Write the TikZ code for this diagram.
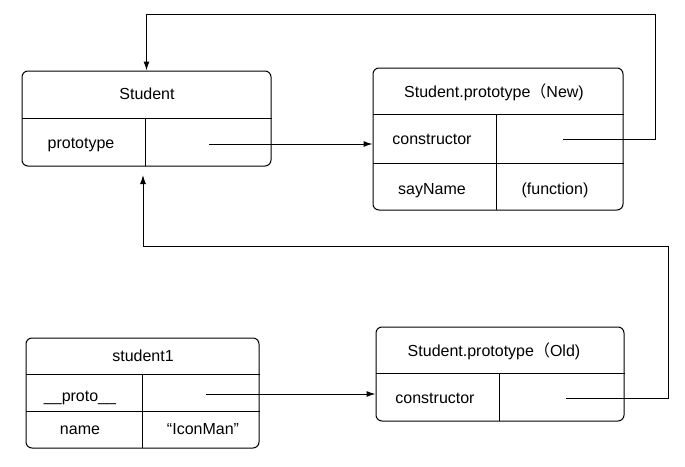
\documentclass[tikz,border=0pt]{standalone}
\usepackage{fontspec}
\setmainfont{Liberation Sans}
\newfontfamily\cjk{Noto Sans CJK SC}
\usetikzlibrary{arrows.meta, positioning}

\begin{document}
\begin{tikzpicture}[x=1pt, y=-1pt, line width=1pt,
  >={Latex[length=9pt,width=6pt]},
  objbox/.style={draw, rounded corners=6pt, inner sep=0pt},
  cell/.style={font=\fontsize{16}{19}\selectfont, inner sep=0pt, text height=12pt, text depth=3pt}]
\useasboundingbox (0,0) rectangle (685,466);

% Student
\node [objbox, minimum width=249pt, minimum height=95pt] (student) at (146.5,118.5) {};
\draw (student.west |- 0,118) -- (student.east |- 0,118);
\draw (145,118) -- (145,166);
\node [cell] (student-title) at (147,95) {Student};
\node [cell] (student-proto) at (81,144) {prototype};

% Student.prototype (New)
\node [objbox, minimum width=250pt, minimum height=142pt] (new) at (498,139) {};
\draw (new.west |- 0,114) -- (new.east |- 0,114);
\draw (new.west |- 0,163) -- (new.east |- 0,163);
\draw (496,114) -- (496,210);
\node [cell] (new-title) at (494,93) {Student.prototype{\cjk （}New)};
\node [cell] (new-ctor) at (432,140) {constructor};
\node [cell] (new-say) at (432,190) {sayName};
\node [cell] (new-fn) at (555,190) {(function)};

% student1
\node [objbox, minimum width=233pt, minimum height=110pt] (s1) at (142.5,393) {};
\draw (s1.west |- 0,374) -- (s1.east |- 0,374);
\draw (s1.west |- 0,411) -- (s1.east |- 0,411);
\draw (142,374) -- (142,448);
\node [cell] (s1-title) at (143,357) {student1};
\node [cell] (s1-proto) at (80,397) {\_\_proto\_\_};
\node [cell] (s1-name) at (80,430) {name};
\node [cell] (s1-value) at (203,430) {“IconMan”};

% Student.prototype (Old)
\node [objbox, minimum width=248pt, minimum height=94pt] (old) at (500,374) {};
\draw (old.west |- 0,373) -- (old.east |- 0,373);
\draw (499,373) -- (499,421);
\node [cell] (old-title) at (494,352) {Student.prototype{\cjk （}Old)};
\node [cell] (old-ctor) at (435,399) {constructor};

% Pointers
\coordinate (proto-ptr) at (209,144);
\draw [->] (proto-ptr) -- (proto-ptr -| new.west);

\coordinate (new-ptr) at (563,139);
\draw [->] (new-ptr) -- (655,139) -- (655,14) -| (student.north);

\coordinate (s1-ptr) at (206,394);
\draw [->] (s1-ptr) -- (s1-ptr -| old.west);

\coordinate (old-ptr) at (566,398);
\coordinate (student-back) at (143,175);
\draw [->] (old-ptr) -- (668,398) -- (668,246) -| (student-back);

\end{tikzpicture}
\end{document}
